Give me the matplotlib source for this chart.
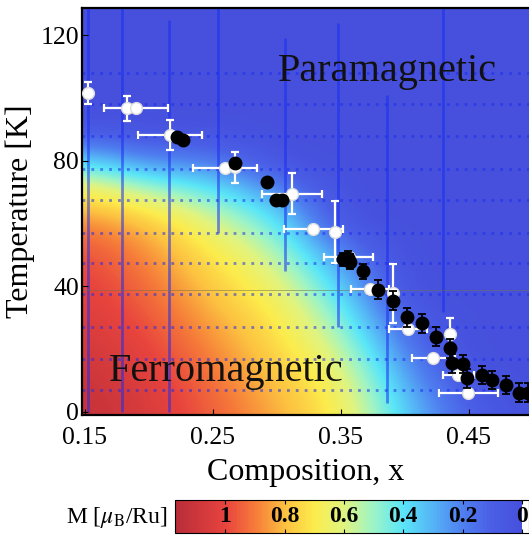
import numpy as np
import matplotlib
matplotlib.use("Agg")
import matplotlib.pyplot as plt
from matplotlib.colors import LinearSegmentedColormap, Normalize

plt.rcParams["font.family"] = ["Liberation Serif", "DejaVu Serif"]
plt.rcParams["mathtext.fontset"] = "stix"

# magnetisation map M(x, T)
comp_grid = [0.15, 0.20, 0.25, 0.30, 0.35, 0.40, 0.45, 0.50]
temp_grid = [0, 10, 20, 30, 40, 50, 60, 70, 80, 90, 100, 110, 120, 130]
m_grid = [
    [1.13, 1.06, 0.95, 0.83, 0.70, 0.35, 0.10, 0.00],
    [1.11, 1.04, 0.92, 0.79, 0.66, 0.28, 0.03, 0.00],
    [1.08, 1.01, 0.88, 0.75, 0.58, 0.18, 0.00, 0.00],
    [1.05, 0.97, 0.83, 0.71, 0.48, 0.08, 0.00, 0.00],
    [1.02, 0.93, 0.77, 0.65, 0.36, 0.00, 0.00, 0.00],
    [0.99, 0.88, 0.71, 0.56, 0.22, 0.00, 0.00, 0.00],
    [0.90, 0.81, 0.60, 0.44, 0.03, 0.00, 0.00, 0.00],
    [0.72, 0.56, 0.44, 0.25, 0.00, 0.00, 0.00, 0.00],
    [0.38, 0.20, 0.20, 0.02, 0.00, 0.00, 0.00, 0.00],
    [0.04, 0.02, 0.02, 0.00, 0.00, 0.00, 0.00, 0.00],
    [0.00, 0.00, 0.00, 0.00, 0.00, 0.00, 0.00, 0.00],
    [0.00, 0.00, 0.00, 0.00, 0.00, 0.00, 0.00, 0.00],
    [0.00, 0.00, 0.00, 0.00, 0.00, 0.00, 0.00, 0.00],
    [0.00, 0.00, 0.00, 0.00, 0.00, 0.00, 0.00, 0.00],
]

# white points: composition, Tc, x error, T error
white_x = [0.1526, 0.1826, 0.1898, 0.2164, 0.2594, 0.2672, 0.3115, 0.3284, 0.3453,
           0.3560, 0.3727, 0.3904, 0.4026, 0.4222, 0.4352, 0.4417, 0.4495]
white_t = [101.5, 96.7, 96.7, 88.2, 77.8, 77.9, 69.6, 58.2, 57.4,
           49.5, 39.1, 37.8, 26.3, 17.1, 24.8, 11.8, 6.2]
white_xerr = [0, 0, 0.025, 0.025, 0.025, 0, 0.0235, 0.023, 0,
              0.019, 0.015, 0, 0.015, 0.017, 0, 0.012, 0.023]
white_terr = [3.5, 3.9, 0, 4.8, 0, 4.8, 6.4, 0, 9.8,
              0, 0, 9.5, 0, 0, 5.0, 0, 0]

# black points: composition, Tc, T error
black_x = [0.2216, 0.2268, 0.2672, 0.2919, 0.2992, 0.3039, 0.3518, 0.3557, 0.3570,
           0.3674, 0.3791, 0.3904, 0.4013, 0.4130, 0.4242, 0.4352, 0.4365, 0.4456,
           0.4482, 0.4599, 0.4677, 0.4790, 0.4893, 0.4960]
black_t = [87.7, 86.6, 79.4, 73.3, 67.5, 67.5, 48.6, 49.2, 47.9,
           44.9, 38.9, 35.5, 30.2, 28.2, 24.0, 20.3, 15.5, 15.3,
           10.7, 11.8, 10.2, 8.6, 6.2, 6.2]
black_terr = [0, 0, 0, 0, 0, 0, 2, 2, 2.4,
              2.4, 3, 3, 3, 3, 3, 3, 3, 3,
              3, 3, 3, 3, 3, 3]

# measurement lines seen in the map
scan_t = [7, 17, 27, 37.5, 47.5, 57, 67.5, 77.5, 88, 98, 108]
vline_x = [0.152, 0.179, 0.216, 0.254, 0.306, 0.348, 0.386, 0.430]
vline_lo = [0, 0, 0, 57, 45, 27, 3, 32]
vline_hi = [129, 129, 125, 129, 119, 124, 101, 129]

cbar_ticks = [1, 0.8, 0.6, 0.4, 0.2, 0]
cbar_labels = ["1", "0.8", "0.6", "0.4", "0.2", "0"]

cmap = LinearSegmentedColormap.from_list("mag", [
    (0.0 / 1.2, "#4650dc"),
    (0.1 / 1.2, "#4a5ee6"),
    (0.2 / 1.2, "#4f80f0"),
    (0.3 / 1.2, "#55b4f6"),
    (0.4 / 1.2, "#5ae6f8"),
    (0.5 / 1.2, "#9cf4c8"),
    (0.6 / 1.2, "#e0f480"),
    (0.7 / 1.2, "#fcec4c"),
    (0.8 / 1.2, "#fcc040"),
    (0.9 / 1.2, "#f67c3a"),
    (1.0 / 1.2, "#e8443e"),
    (1.0, "#b02838"),
])
norm = Normalize(vmin=0, vmax=1.2)

fig = plt.figure(figsize=(5.29, 5.36), dpi=100)
ax = fig.add_axes([82 / 529, 121 / 536, 447 / 529, 407 / 536])
ax.set_facecolor("#4650dc")

dc = comp_grid[1] - comp_grid[0]
dt = temp_grid[1] - temp_grid[0]
im = ax.imshow(np.array(m_grid), origin="lower", aspect="auto", cmap=cmap, norm=norm,
               interpolation="bicubic", interpolation_stage="data",
               extent=[comp_grid[0] - dc / 2, comp_grid[-1] + dc / 2,
                       temp_grid[0] - dt / 2, temp_grid[-1] + dt / 2], zorder=0)

ax.hlines(scan_t, 0.1477, 0.497, colors="#1a2cf0", linestyles=(0, (1, 2.2)),
          linewidth=2, alpha=0.55, zorder=1)
ax.vlines(vline_x, vline_lo, vline_hi, colors="#1a2cf0", linewidth=2, alpha=0.55, zorder=1)
ax.axhline(39, color="#707050", linewidth=0.6, alpha=0.6, zorder=1)

ax.errorbar(white_x, white_t, xerr=white_xerr, yerr=white_terr, fmt="o", color="white",
            ecolor="white", elinewidth=1.6, capsize=3, capthick=1.6, markersize=8.5,
            markeredgecolor="#dddddd", zorder=3)
ax.errorbar(black_x, black_t, yerr=black_terr, fmt="o", color="black", ecolor="black",
            elinewidth=1.3, capsize=3, capthick=1.3, markersize=9, zorder=4)

ax.text(0.3864, 108.6, "Paramagnetic", fontsize=29, ha="center", va="center", color="#111111")
ax.text(0.260, 12.8, "Ferromagnetic", fontsize=29, ha="center", va="center", color="#111111")

ax.set_xlim(0.1477, 0.4969)
ax.set_ylim(-0.96, 128.7)
ax.set_xticks([0.15, 0.25, 0.35, 0.45])
ax.set_xticklabels(["0.15", "0.25", "0.35", "0.45"])
ax.set_yticks([0, 40, 80, 120])
ax.tick_params(direction="in", length=4, labelsize=18.5)
ax.tick_params(axis="x", pad=9)
ax.tick_params(axis="y", pad=2)
ax.spines["right"].set_visible(False)
for s in ["left", "bottom", "top"]:
    ax.spines[s].set_linewidth(1.6)
ax.set_xlabel("Composition, x", fontsize=23, labelpad=6)
ax.set_ylabel("Temperature [K]", fontsize=23, labelpad=4)

# colour bar, cropped at the right like the original
cax = fig.add_axes([175 / 529, 3 / 536, 354 / 529, 33 / 536])
cb = fig.colorbar(im, cax=cax, orientation="horizontal")
cb.outline.set_linewidth(0.8)
cax.set_xlim(1.17, -0.024)
cax.set_xticks(cbar_ticks)
cax.tick_params(direction="in", length=3, top=True, bottom=True, labelbottom=False)
for v, lab in zip(cbar_ticks, cbar_labels):
    cax.text(v, 0.5, lab, fontsize=17, fontweight="bold", ha="center", va="center",
             transform=cax.get_xaxis_transform())
fig.text(168 / 529, 1 - 517 / 536, r"M [$\mu_{\rm B}$/Ru]", fontsize=17,
         ha="right", va="center")

fig.savefig("out.png", dpi=100)
